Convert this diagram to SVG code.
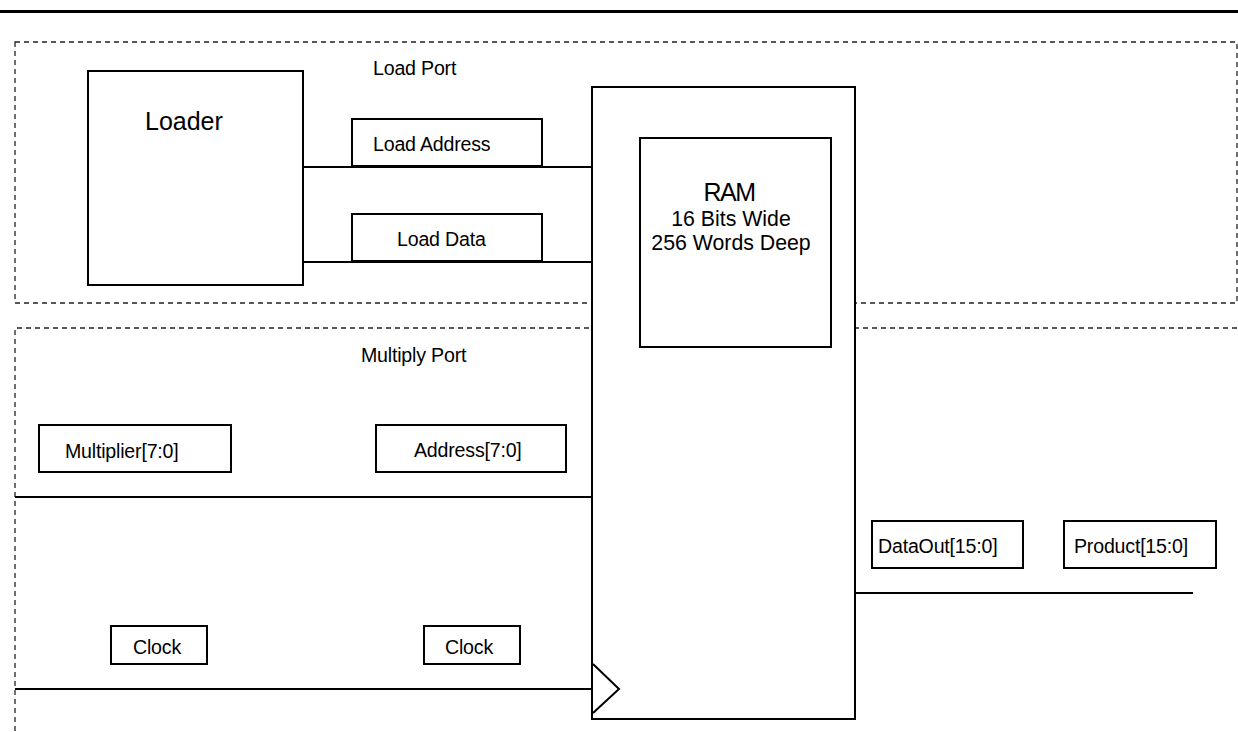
<svg xmlns="http://www.w3.org/2000/svg" width="1238" height="732" viewBox="0 0 1238 732">
<style>
.box{fill:#fff;stroke:#000;stroke-width:2}
.dash{fill:none;stroke:#222;stroke-width:1.3;stroke-dasharray:5 4}
.wire{fill:none;stroke:#000;stroke-width:2}
text{font-family:"Liberation Sans",Arial,sans-serif;fill:#000}
.lbl{font-size:19.6px;letter-spacing:-0.2px}
.big{font-size:25px}
.ram{font-size:21.3px}
</style>
<rect width="1238" height="732" fill="#fff"/>
<line x1="0" y1="11.5" x2="1238" y2="11.5" stroke="#000" stroke-width="3.2"/>
<g id="load-port">
<rect class="dash" x="15" y="42" width="1222" height="261"/>
<text class="lbl" x="373" y="75">Load Port</text>
</g>
<g id="multiply-port">
<path class="dash" d="M15,740 V328 H1245"/>
<text class="lbl" x="361" y="362">Multiply Port</text>
</g>
<g id="connectors">
<line class="wire" x1="303" y1="167" x2="593" y2="167"/>
<line class="wire" x1="303" y1="262" x2="593" y2="262"/>
<line class="wire" x1="15" y1="497" x2="593" y2="497"/>
<line class="wire" x1="15" y1="689" x2="593" y2="689"/>
<line class="wire" x1="855" y1="593" x2="1193" y2="593"/>
</g>
<g id="loader">
<rect class="box" x="88" y="71" width="215" height="214"/>
<text class="big" x="145" y="130">Loader</text>
</g>
<g id="load-address">
<rect class="box" x="352" y="119" width="190" height="47"/>
<text class="lbl" x="373" y="151">Load Address</text>
</g>
<g id="load-data">
<rect class="box" x="352" y="214" width="190" height="47"/>
<text class="lbl" x="397" y="246">Load Data</text>
</g>
<g id="ram">
<rect class="box" x="592" y="87" width="263" height="632"/>
<rect class="box" x="640" y="138" width="191" height="209"/>
<text class="big" x="729" y="201" text-anchor="middle" letter-spacing="-1.5">RAM</text>
<text class="ram" x="731" y="226" text-anchor="middle">16 Bits Wide</text>
<text class="ram" x="731" y="250" text-anchor="middle">256 Words Deep</text>
<polyline class="wire" points="593,664 619,689 593,713"/>
</g>
<g id="multiplier">
<rect class="box" x="39" y="425" width="192" height="47"/>
<text class="lbl" x="65" y="458">Multiplier[7:0]</text>
</g>
<g id="address">
<rect class="box" x="376" y="425" width="190" height="47"/>
<text class="lbl" x="414" y="457">Address[7:0]</text>
</g>
<g id="clock1">
<rect class="box" x="111" y="626" width="96" height="38"/>
<text class="lbl" x="133" y="654">Clock</text>
</g>
<g id="clock2">
<rect class="box" x="424" y="626" width="96" height="38"/>
<text class="lbl" x="445" y="654">Clock</text>
</g>
<g id="dataout">
<rect class="box" x="872" y="521" width="151" height="47"/>
<text class="lbl" x="878" y="553">DataOut[15:0]</text>
</g>
<g id="product">
<rect class="box" x="1064" y="521" width="152" height="47"/>
<text class="lbl" x="1074" y="553">Product[15:0]</text>
</g>
</svg>
